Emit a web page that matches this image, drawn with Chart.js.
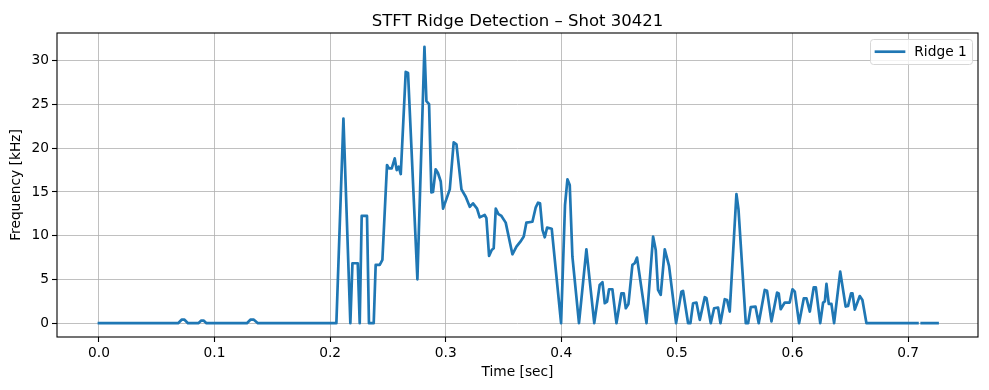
<!DOCTYPE html>
<html>
<head>
<meta charset="utf-8">
<script src="https://cdn.jsdelivr.net/npm/chart.js@4"></script>
<style>
  html, body { margin: 0; padding: 0; background: #fff; }
  #wrap { width: 989px; height: 390px; }
</style>
</head>
<body>
<div id="wrap"><canvas id="c" width="989" height="390"></canvas></div>
<script>
// ---- data ----
const chartTitle = "STFT Ridge Detection – Shot 30421";
const seriesLabel = "Ridge 1";
const times = [
  0.0000, 0.0685, 0.0715, 0.0740, 0.0770, 0.0860, 0.0885, 0.0905, 0.0930,
  0.1280, 0.1310, 0.1340, 0.1375, 0.2054, 0.2115, 0.2175, 0.2193, 0.2239,
  0.2256, 0.2273, 0.2319, 0.2336, 0.2377, 0.2394, 0.2429, 0.2452, 0.2492,
  0.2509, 0.2533, 0.2559, 0.2576, 0.2593, 0.2611, 0.2654, 0.2674, 0.2755,
  0.2816, 0.2833, 0.2856, 0.2876, 0.2890, 0.2913, 0.2933, 0.2957, 0.2977,
  0.3035, 0.3069, 0.3093, 0.3136, 0.3173, 0.3208, 0.3236, 0.3271, 0.3294,
  0.3337, 0.3352, 0.3375, 0.3398, 0.3415, 0.3433, 0.3456, 0.3482, 0.3519,
  0.3577, 0.3612, 0.3646, 0.3675, 0.3698, 0.3750, 0.3779, 0.3799, 0.3816,
  0.3837, 0.3857, 0.3877, 0.3917, 0.3998, 0.4032, 0.4053, 0.4073, 0.4096,
  0.4153, 0.4217, 0.4285, 0.4332, 0.4356, 0.4376, 0.4396, 0.4413, 0.4442,
  0.4477, 0.4520, 0.4540, 0.4558, 0.4581, 0.4615, 0.4635, 0.4655, 0.4737,
  0.4794, 0.4817, 0.4837, 0.4860, 0.4895, 0.4932, 0.4993, 0.5039, 0.5053,
  0.5097, 0.5117, 0.5140, 0.5169, 0.5198, 0.5241, 0.5256, 0.5293, 0.5322,
  0.5356, 0.5377, 0.5414, 0.5434, 0.5457, 0.5515, 0.5533, 0.5596, 0.5616,
  0.5639, 0.5680, 0.5708, 0.5760, 0.5780, 0.5818, 0.5867, 0.5881, 0.5898,
  0.5933, 0.5976, 0.6000, 0.6020, 0.6057, 0.6098, 0.6121, 0.6150, 0.6184,
  0.6202, 0.6240, 0.6265, 0.6280, 0.6294, 0.6314, 0.6337, 0.6360, 0.6413,
  0.6460, 0.6481, 0.6507, 0.6519, 0.6539, 0.6582, 0.6605, 0.6640, 0.7081,
  0.7100, 0.7118, 0.7255
];
const freqs = [
  0, 0, 0.4, 0.4, 0, 0, 0.3, 0.3, 0,
  0, 0.4, 0.4, 0, 0, 23.4, 0, 6.85, 6.85,
  0, 12.26, 12.26, 0, 0, 6.66, 6.66, 7.23, 18.08,
  17.7, 17.7, 18.84, 17.5, 17.9, 17.05, 28.74, 28.6, 5.02,
  31.6, 25.4, 25.05, 14.96, 15.0, 17.6, 17.17, 16.2, 13.1,
  15.3, 20.67, 20.45, 15.3, 14.46, 13.3, 13.7, 13.1, 12.1,
  12.37, 12.0, 7.69, 8.37, 8.56, 13.1, 12.48, 12.26, 11.5,
  7.88, 8.75, 9.32, 9.9, 11.5, 11.6, 13.25, 13.78, 13.7,
  10.66, 9.82, 10.92, 10.8, 0, 13.5, 16.45, 15.8, 7.6,
  0, 8.45, 0, 4.37, 4.68, 2.28, 2.47, 3.88, 3.88,
  0, 3.42, 3.42, 1.71, 2.2, 6.66, 6.85, 7.5, 0,
  9.9, 8.37, 3.8, 3.23, 8.45, 6.55, 0, 3.6, 3.7,
  0, 0, 2.28, 2.36, 0.38, 2.97, 2.85, 0, 1.71,
  1.79, 0, 2.74, 2.66, 1.33, 14.77, 13.0, 0, 0,
  1.83, 1.9, 0, 3.8, 3.7, 0.2, 3.5, 3.4, 1.6,
  2.36, 2.36, 3.88, 3.6, 0, 2.85, 2.85, 1.33, 4.1,
  4.1, 0, 2.36, 2.5, 4.5, 2.2, 2.2, 0, 5.9,
  1.9, 1.98, 3.42, 3.42, 1.55, 3.1, 2.66, 0, 0,
  null, 0, 0
];
const xTicks = [0.0, 0.1, 0.2, 0.3, 0.4, 0.5, 0.6, 0.7];
const yTicks = [0, 5, 10, 15, 20, 25, 30];

const points = times.map((t, i) => ({ x: t, y: freqs[i] }));

Chart.defaults.font.family = "'DejaVu Sans', 'Liberation Sans', sans-serif";
Chart.defaults.color = '#000';

const frameTitleLegend = {
  id: 'frameTitleLegend',
  afterDatasetsDraw(chart) {
    const ctx = chart.ctx;
    const a = chart.chartArea;
    ctx.save();
    ctx.strokeStyle = '#000';
    ctx.lineWidth = 1.1;
    ctx.strokeRect(a.left, a.top, a.right - a.left, a.bottom - a.top);
    ctx.restore();
  },
  afterDraw(chart, args, opts) {
    const ctx = chart.ctx;
    const a = chart.chartArea;
    const ds = chart.data.datasets[0];
    ctx.save();
    // title centred over the plot area
    ctx.fillStyle = '#000';
    ctx.font = "16.5px 'DejaVu Sans'";
    ctx.textAlign = 'center';
    ctx.textBaseline = 'alphabetic';
    ctx.fillText(opts.title, (a.left + a.right) / 2, 25.5);
    // legend box
    const bx = 870.5, by = 39.5, bw = 102, bh = 25, r = 3;
    ctx.beginPath();
    ctx.moveTo(bx + r, by);
    ctx.lineTo(bx + bw - r, by);
    ctx.quadraticCurveTo(bx + bw, by, bx + bw, by + r);
    ctx.lineTo(bx + bw, by + bh - r);
    ctx.quadraticCurveTo(bx + bw, by + bh, bx + bw - r, by + bh);
    ctx.lineTo(bx + r, by + bh);
    ctx.quadraticCurveTo(bx, by + bh, bx, by + bh - r);
    ctx.lineTo(bx, by + r);
    ctx.quadraticCurveTo(bx, by, bx + r, by);
    ctx.closePath();
    ctx.fillStyle = 'rgba(255,255,255,0.8)';
    ctx.fill();
    ctx.strokeStyle = '#d6d6d6';
    ctx.lineWidth = 1;
    ctx.stroke();
    ctx.beginPath();
    ctx.moveTo(876, 51.7);
    ctx.lineTo(904, 51.7);
    ctx.strokeStyle = ds.borderColor;
    ctx.lineWidth = ds.borderWidth;
    ctx.lineCap = 'square';
    ctx.stroke();
    ctx.fillStyle = '#000';
    ctx.font = "13.75px 'DejaVu Sans'";
    ctx.textBaseline = 'middle';
    ctx.textAlign = 'left';
    ctx.fillText(ds.label, 914.3, 52);
    ctx.restore();
  }
};

new Chart(document.getElementById('c'), {
  type: 'line',
  data: {
    datasets: [{
      label: seriesLabel,
      data: points,
      borderColor: '#1f77b4',
      backgroundColor: '#1f77b4',
      borderWidth: 2.7,
      pointRadius: 0,
      pointHoverRadius: 0,
      tension: 0,
      spanGaps: false,
      borderJoinStyle: 'round',
      borderCapStyle: 'square',
      fill: false
    }]
  },
  options: {
    responsive: false,
    animation: false,
    devicePixelRatio: 1,
    events: [],
    layout: { padding: { left: 0, right: 11, top: 33, bottom: 0 } },
    plugins: {
      legend: { display: false },
      tooltip: { enabled: false },
      title: { display: false },
      frameTitleLegend: { title: chartTitle }
    },
    scales: {
      x: {
        type: 'linear',
        min: -0.0363,
        max: 0.7605,
        afterFit(s) { s.height = 53; },
        afterBuildTicks(s) { s.ticks = xTicks.map(v => ({ value: v })); },
        ticks: {
          callback: v => v.toFixed(1),
          font: { size: 13.75 },
          color: '#000',
          padding: 3,
          maxRotation: 0,
          autoSkip: false
        },
        grid: {
          color: '#b0b0b0',
          lineWidth: 0.8,
          drawTicks: true,
          tickLength: 5,
          tickColor: '#000',
          tickWidth: 1.1
        },
        border: { display: false },
        title: {
          display: true,
          text: 'Time [sec]',
          font: { size: 13.75 },
          color: '#000',
          padding: { top: 0, bottom: 9.6 }
        }
      },
      y: {
        type: 'linear',
        min: -1.58,
        max: 33.18,
        afterFit(s) { s.width = 57; },
        afterBuildTicks(s) { s.ticks = yTicks.map(v => ({ value: v })); },
        ticks: {
          callback: v => String(v),
          font: { size: 13.75 },
          color: '#000',
          padding: 3,
          autoSkip: false
        },
        grid: {
          color: '#b0b0b0',
          lineWidth: 0.8,
          drawTicks: true,
          tickLength: 5,
          tickColor: '#000',
          tickWidth: 1.1
        },
        border: { display: false },
        title: {
          display: true,
          text: 'Frequency [kHz]',
          font: { size: 13.75 },
          color: '#000',
          padding: { top: 7.9, bottom: 0 }
        }
      }
    }
  },
  plugins: [frameTitleLegend]
});
</script>
</body>
</html>
